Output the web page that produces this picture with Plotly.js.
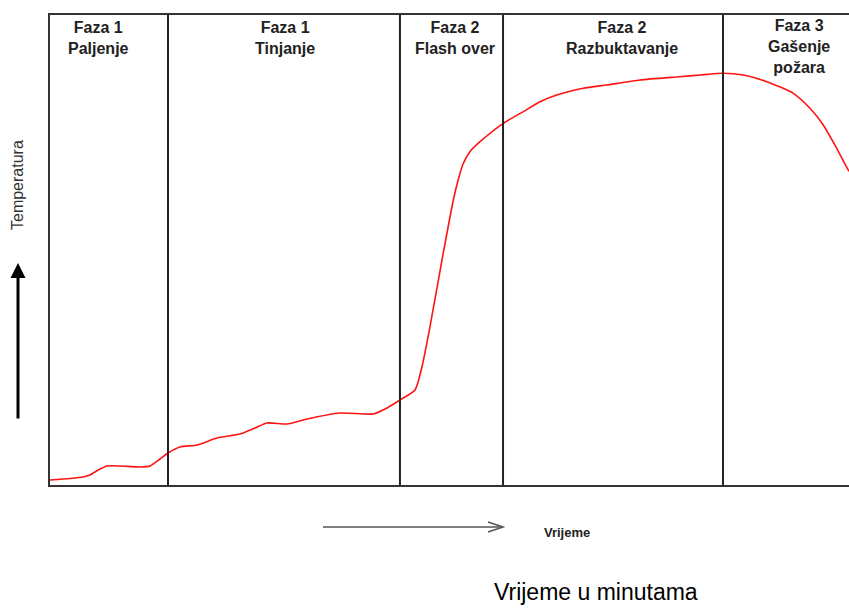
<!DOCTYPE html>
<html>
<head>
<meta charset="utf-8">
<script src="https://cdn.plot.ly/plotly-3.0.1.min.js"></script>
<style>html,body{margin:0;padding:0;background:#fff;}#chart{width:849px;height:608px;}</style>
</head>
<body>
<div id="chart"></div>
<script>
// Time (relative minutes, 0-100 scale) and temperature (relative, 0-100 scale)
var timeMin = [0, 2.5, 4.13, 5.0, 6.26, 7.13, 8.76, 11.26, 12.52, 13.77, 14.77, 16.27, 18.4, 20.9, 23.78, 25.66, 27.16, 29.66, 32.17, 36.3, 40.43, 42.18, 43.8, 45.68, 46.56, 47.56, 49.06, 50.48, 51.1, 51.7, 52.6, 53.82, 56.73, 59.24, 61.33, 63.42, 66.75, 69.67, 73.84, 78.85, 81.35, 84.27, 86.77, 89.7, 93.03, 95.12, 96.78, 98.46, 99.91, 100.3];
var temperature = [1.06, 1.38, 1.70, 2.13, 3.40, 4.04, 4.04, 3.83, 4.04, 5.53, 6.81, 8.09, 8.51, 10.0, 10.85, 12.13, 13.19, 12.98, 14.04, 15.32, 15.11, 16.38, 18.09, 20.21, 25.17, 33.68, 47.87, 60.64, 65.0, 68.3, 71.0, 73.04, 76.96, 79.43, 81.55, 82.98, 84.4, 85.11, 86.17, 86.87, 87.23, 87.6, 87.23, 85.81, 83.34, 80.15, 76.6, 71.64, 67.02, 66.3];

// Phase boundaries (same time scale)
var phaseBounds = [14.77, 43.8, 56.7, 84.23];

// Phase labels
var phaseLabels = [
  "Faza 1<br>Paljenje",
  "Faza 1<br>Tinjanje",
  "Faza 2<br>Flash over",
  "Faza 2<br>Razbuktavanje",
  "Faza 3<br>Gašenje<br>požara"
];

var yLabel = "Temperatura";
var xArrowLabel = "Vrijeme";
var xTitle = "Vrijeme u minutama";

// ---- layout helpers (pixel -> paper) ----
var L = 50, T = 15, W = 799, H = 470;
function px(x) { return (x - L) / W; }
function py(y) { return (T + H - y) / H; }

var labelCentersPx = [98, 285, 455, 622, 799];
var labelMidYPx = [38, 38, 38, 38, 47];

var annotations = [];
phaseLabels.forEach(function (txt, i) {
  annotations.push({
    text: txt, xref: 'paper', yref: 'paper',
    x: px(labelCentersPx[i]), y: py(labelMidYPx[i]),
    xanchor: 'center', yanchor: 'middle', align: 'center', showarrow: false,
    font: {family: 'Liberation Sans, Arial, sans-serif', size: 16, color: '#222', weight: 'bold'}
  });
});

// Y label
annotations.push({
  text: yLabel, xref: 'paper', yref: 'paper', x: px(18), y: py(185),
  xanchor: 'center', yanchor: 'middle', textangle: -90, showarrow: false,
  font: {family: 'Liberation Sans, Arial, sans-serif', size: 16, color: '#333'}
});
// Up arrow
annotations.push({
  text: '', xref: 'paper', yref: 'paper', x: px(18), y: py(263),
  ax: 0, ay: 157, showarrow: true, arrowhead: 2, arrowsize: 1, arrowwidth: 3, arrowcolor: '#000'
});
// "Vrijeme" label
annotations.push({
  text: xArrowLabel, xref: 'paper', yref: 'paper', x: px(567), y: py(532),
  xanchor: 'center', yanchor: 'middle', showarrow: false,
  font: {family: 'Liberation Sans, Arial, sans-serif', size: 13, color: '#222', weight: 'bold'}
});
// Title
annotations.push({
  text: xTitle, xref: 'paper', yref: 'paper', x: px(596), y: py(592),
  xanchor: 'center', yanchor: 'middle', showarrow: false,
  font: {family: 'Liberation Sans, Arial, sans-serif', size: 23, color: '#000'}
});

var shapes = phaseBounds.map(function (b) {
  return {type: 'line', xref: 'x', yref: 'paper', x0: b, x1: b, y0: 0, y1: 1,
          line: {color: '#222', width: 2}};
});
// horizontal time arrow
shapes.push({type: 'line', xref: 'paper', yref: 'paper', x0: px(323), x1: px(502), y0: py(527), y1: py(527),
             line: {color: '#555', width: 1.5}});
shapes.push({type: 'path', xref: 'paper', yref: 'paper',
             path: 'M ' + px(488) + ' ' + py(522) + ' L ' + px(503) + ' ' + py(527) + ' L ' + px(488) + ' ' + py(532),
             line: {color: '#555', width: 1.5}});

var trace = {
  x: timeMin, y: temperature, type: 'scatter', mode: 'lines',
  line: {color: 'rgb(255,20,20)', width: 1.6, shape: 'spline', smoothing: 0.6},
  hoverinfo: 'skip', cliponaxis: true
};

var layout = {
  width: 849, height: 608,
  margin: {l: 50, r: 0, t: 15, b: 123},
  paper_bgcolor: '#fff', plot_bgcolor: '#fff',
  showlegend: false,
  xaxis: {range: [0, 100], showgrid: false, zeroline: false, showticklabels: false, ticks: '',
          showline: true, mirror: true, linecolor: '#333', linewidth: 2, fixedrange: true},
  yaxis: {range: [0, 100], showgrid: false, zeroline: false, showticklabels: false, ticks: '',
          showline: true, mirror: false, linecolor: '#333', linewidth: 2, fixedrange: true},
  annotations: annotations,
  shapes: shapes
};

Plotly.newPlot('chart', [trace], layout, {displayModeBar: false, staticPlot: true});
</script>
</body>
</html>
